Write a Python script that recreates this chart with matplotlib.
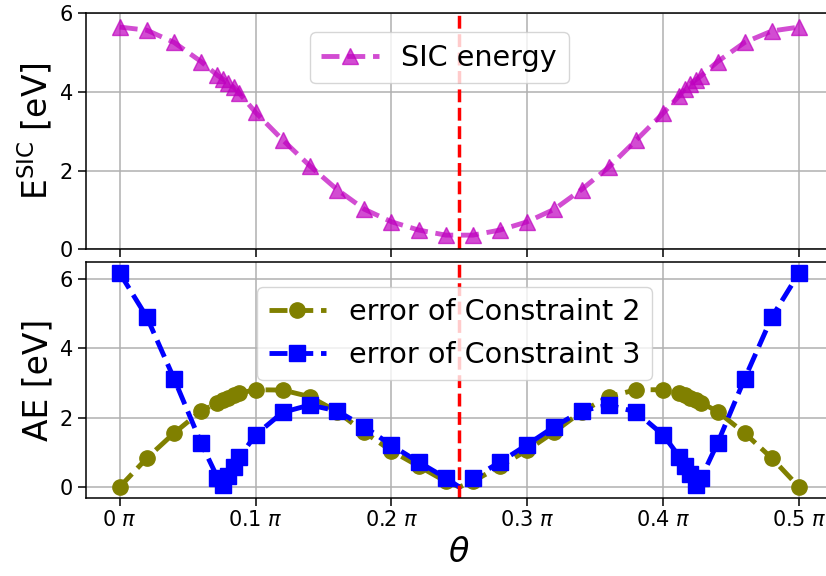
import matplotlib
matplotlib.use("Agg")
import matplotlib.pyplot as plt

# theta in units of pi
theta_sic = [0, 0.02, 0.04, 0.06, 0.072, 0.076, 0.08, 0.084, 0.088, 0.1, 0.12, 0.14,
             0.16, 0.18, 0.2, 0.22, 0.24, 0.26, 0.28, 0.3, 0.32, 0.34, 0.36, 0.38,
             0.4, 0.412, 0.416, 0.42, 0.424, 0.428, 0.44, 0.46, 0.48, 0.5]
sic_energy = [5.65, 5.57, 5.26, 4.77, 4.42, 4.33, 4.22, 4.12, 3.97, 3.48, 2.78, 2.12,
              1.52, 1.02, 0.70, 0.49, 0.36, 0.36, 0.49, 0.70, 1.02, 1.52, 2.09, 2.77,
              3.46, 3.91, 4.08, 4.20, 4.31, 4.41, 4.77, 5.26, 5.55, 5.65]

theta_err = [0, 0.02, 0.04, 0.06, 0.072, 0.076, 0.08, 0.084, 0.088, 0.1, 0.12, 0.14,
             0.16, 0.18, 0.2, 0.22, 0.24, 0.25, 0.26, 0.28, 0.3, 0.32, 0.34, 0.36, 0.38,
             0.4, 0.412, 0.416, 0.42, 0.424, 0.428, 0.44, 0.46, 0.48, 0.5]
err_c2 = [0.0, 0.83, 1.55, 2.19, 2.42, 2.50, 2.57, 2.64, 2.70, 2.80, 2.79, 2.60,
          2.17, 1.58, 1.04, 0.60, 0.16, 0.0, 0.16, 0.60, 1.06, 1.59, 2.17, 2.60, 2.80,
          2.80, 2.72, 2.64, 2.57, 2.50, 2.43, 2.17, 1.55, 0.83, 0.0]
err_c3 = [6.16, 4.89, 3.12, 1.26, 0.27, 0.05, 0.33, 0.58, 0.85, 1.50, 2.15, 2.36,
          2.19, 1.74, 1.20, 0.72, 0.26, 0.0, 0.25, 0.72, 1.22, 1.74, 2.19, 2.36, 2.16,
          1.50, 0.87, 0.61, 0.38, 0.07, 0.26, 1.26, 3.12, 4.89, 6.16]

xticks = [0, 0.1, 0.2, 0.3, 0.4, 0.5]
xtick_labels = [r'0 $\pi$', r'0.1 $\pi$', r'0.2 $\pi$', r'0.3 $\pi$', r'0.4 $\pi$', r'0.5 $\pi$']
yticks = [0, 2, 4, 6]
theta_sym = 0.25

fig = plt.figure(figsize=(8.26, 5.76), dpi=100)
W, H = 826, 576
left, right = 85.7, 833.0
ax1 = fig.add_axes([left / W, (H - 249.3) / H, (right - left) / W, (249.3 - 13.3) / H])
ax2 = fig.add_axes([left / W, (H - 497.7) / H, (right - left) / W, (497.7 - 262.3) / H],
                   sharex=ax1)

lw = 3.5
ax1.plot(theta_sic, sic_energy, '--', color='m', marker='^', markersize=11,
         linewidth=lw, alpha=0.7, label='SIC energy')
ax1.axvline(theta_sym, color='r', linestyle='--', linewidth=2.5)
ax1.set_ylim(0, 6)
ax1.set_yticks(yticks)
ax1.set_ylabel(r'E$^{\mathrm{SIC}}$ [eV]', fontsize=23.7)
ax1.grid(True, linewidth=1.1)
ax1.tick_params(labelbottom=False)
ax1.legend(loc='upper left', bbox_to_anchor=(0.300, 0.919), borderaxespad=0,
           fontsize=20.6)

mark_idx = [i for i, t in enumerate(theta_err) if t != theta_sym]
ax2.plot(theta_err, err_c2, '--', color='olive', marker='o', markersize=11,
         linewidth=lw, markevery=mark_idx, label='error of Constraint 2')
ax2.plot(theta_err, err_c3, '--', color='b', marker='s', markersize=11,
         linewidth=lw, markevery=mark_idx, label='error of Constraint 3')
ax2.axvline(theta_sym, color='r', linestyle='--', linewidth=2.5)
ax2.set_yticks(yticks)
ax2.set_ylabel('AE [eV]', fontsize=23.7)
ax2.set_xlabel(r'$\theta$', fontsize=24)
ax2.grid(True, linewidth=1.1)
ax2.legend(loc='upper left', bbox_to_anchor=(0.2296, 0.896), borderaxespad=0,
           fontsize=20.6)

ax2.set_xlim(-0.025, 0.525)
ax2.set_xticks(xticks)
ax2.set_xticklabels(xtick_labels)

for ax in (ax1, ax2):
    ax.tick_params(labelsize=15, length=5.5, width=1.1)
    for s in ax.spines.values():
        s.set_linewidth(1.1)

fig.savefig('out.png', dpi=100)
